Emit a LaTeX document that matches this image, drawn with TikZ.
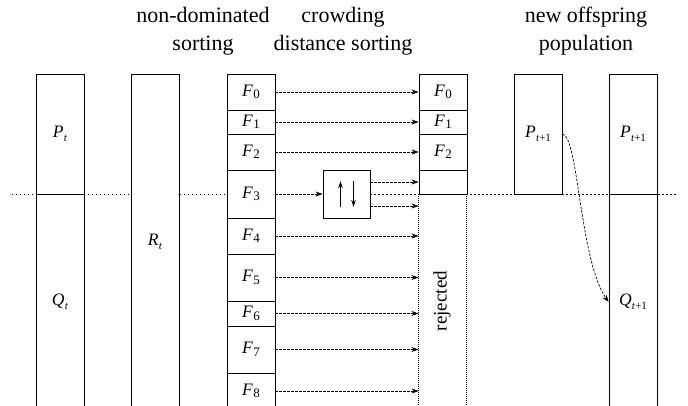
\documentclass[tikz,border=0pt]{standalone}
\usepackage{fontspec}
\setmainfont{Liberation Serif}
\usetikzlibrary{arrows.meta,calc}
\newcommand{\Fl}[1]{\textit{F}\kern0.3pt\raisebox{-2.5pt}{\fontsize{13}{13}\selectfont #1}}
\newcommand{\Pl}[2]{\textit{#1}\kern0.3pt\raisebox{-4pt}{\fontsize{11}{11}\selectfont #2}}
\tikzset{
  box/.style={draw=black, line width=0.9pt, fill=white, inner sep=0pt,
    minimum width=48pt, font=\fontsize{17.5}{20}\selectfont},
  arr/.style={dash pattern=on 2.5pt off 1.5pt, line width=0.7pt,
    -{Stealth[length=7pt,width=5pt]}},
  midl/.style={dash pattern=on 1.1pt off 2.9pt, line width=0.8pt},
  rejl/.style={dash pattern=on 1pt off 1pt, line width=0.8pt},
  head/.style={align=center, font=\fontsize{22}{28}\selectfont},
}
\begin{document}
\begin{tikzpicture}[x=1pt,y=-1pt]
\useasboundingbox (0,0) rectangle (688,406);
\clip (0,0) rectangle (688,406);
% headings
\node[head] (h1) at (203,31) {non-dominated\\sorting};
\node[head] (h2) at (343,31) {crowding\\distance sorting};
\node[head] (h3) at (586,31) {new offspring\\population};
% midline coordinates
\coordinate (ml) at (12,194);
\coordinate (mr) at (678,194);
% sorting box (needed for midline segments)
\node[box, minimum width=47pt, minimum height=48pt] (s) at (346.5,194) {};
\node[box, minimum height=48pt] (f3) at (251,194) {\Fl{3}};
\draw[midl] (ml) -- (f3.west);
\draw[midl] (s.east) -- (mr);
% left columns
\node[box, minimum height=120pt] (pt) at (60,134) {\Pl{P}{\textit{t}}};
\node[box, minimum height=216pt] (qt) at (60,302) {\Pl{Q}{\textit{t}}};
\node[box, minimum height=336pt] (rt) at (155,242) {\Pl{R}{\textit{t}}};
% F column
\node[box, minimum height=36pt] (f0) at (251,92) {\Fl{0}};
\node[box, minimum height=24pt] (f1) at (251,122) {\Fl{1}};
\node[box, minimum height=36pt] (f2) at (251,152) {\Fl{2}};
\node[box, minimum height=48pt] (f3b) at (251,194) {\Fl{3}};
\node[box, minimum height=36pt] (f4) at (251,236) {\Fl{4}};
\node[box, minimum height=47pt] (f5) at (251,277.5) {\Fl{5}};
\node[box, minimum height=25pt] (f6) at (251,313.5) {\Fl{6}};
\node[box, minimum height=47pt] (f7) at (251,349.5) {\Fl{7}};
\node[box, minimum height=36pt] (f8) at (251,391) {\Fl{8}};
% selected column
\node[box, minimum height=36pt] (g0) at (443,92) {\Fl{0}};
\node[box, minimum height=24pt] (g1) at (443,122) {\Fl{1}};
\node[box, minimum height=36pt] (g2) at (443,152) {\Fl{2}};
\node[box, minimum height=24pt] (g3) at (443,182) {};
% rejected area
\coordinate (rl) at ($(g3.south west)+(0,216)$);
\coordinate (rr) at ($(g3.south east)+(-1,216)$);
\draw[rejl] (g3.south west) -- (rl);
\draw[rejl] ($(g3.south east)+(-1,0)$) -- (rr);
\node[rotate=90, font=\fontsize{19}{19}\selectfont] (rej) at (442,301) {rejected};
% new population
\node[box, minimum height=120pt] (pn) at (538,134) {\Pl{P}{\textit{t}+1}};
\node[box, minimum height=120pt] (pf) at (633,134) {\Pl{P}{\textit{t}+1}};
\node[box, minimum height=216pt] (qf) at (633,302) {\Pl{Q}{\textit{t}+1}};
% arrows
\draw[arr] (f0.east) -- (g0.west);
\draw[arr] (f1.east) -- (g1.west);
\draw[arr] (f2.east) -- (g2.west);
\draw[arr] (f3b.east) -- (s.west);
\draw[arr] (s.east |- g3.west) -- (g3.west);
\draw[arr] ($(s.east)+(0,12)$) -- ($(g3.west)+(0,24)$);
\foreach \n in {f4,f5,f6,f7,f8}{
  \draw[arr] (\n.east) -- (\n.east -| g3.west);
}
% arrows inside sorting box
\draw[line width=0.9pt, -{Stealth[length=7pt,width=4.5pt]}] ($(s.center)+(-6,13)$) -- ($(s.center)+(-6,-13)$);
\draw[line width=0.9pt, -{Stealth[length=7pt,width=4.5pt]}] ($(s.center)+(7,-13)$) -- ($(s.center)+(7,13)$);
% curved arrow
\draw[arr] (pn.east) .. controls +(16,2) and +(-29,-42) .. (qf.west);
\end{tikzpicture}
\end{document}
